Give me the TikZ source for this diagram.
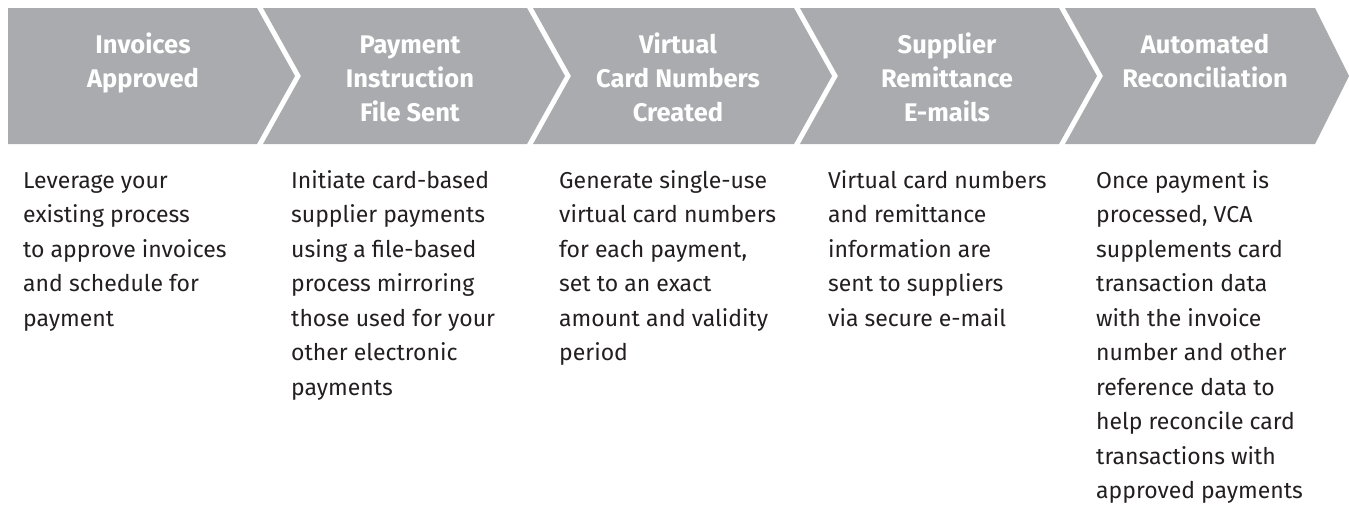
\documentclass[tikz,border=0pt]{standalone}
\usepackage{fontspec}
\setmainfont{Fira Sans}
\definecolor{band}{RGB}{170,171,174}
\definecolor{ink}{RGB}{35,31,32}
\tikzset{
  chev/.style={fill=band, draw=none},
  head/.style={anchor=base, inner sep=0pt, text=white, font=\fontsize{25.5}{34}\selectfont\bfseries},
  desc/.style={anchor=base west, inner sep=0pt, text=ink, font=\fontsize{23}{34.5}\selectfont},
}
\newcommand{\hbx}[1]{\parbox[t]{260pt}{\centering #1}}
\newcommand{\dbx}[1]{\parbox[t]{260pt}{\raggedright #1}}
\begin{document}
\begin{tikzpicture}[x=1pt,y=-1pt]
\useasboundingbox (0,0) rectangle (1349,504);
% separators top centre: 260, 530, 797, 1062 ; depth 38 ; half gap 3
\fill[chev] (8,8) -- (257,8) -- (295,76) -- (257,144) -- (8,144) -- cycle;
\fill[chev] (263,8) -- (527,8) -- (565,76) -- (527,144) -- (263,144) -- (301,76) -- cycle;
\fill[chev] (533,8) -- (794,8) -- (832,76) -- (794,144) -- (533,144) -- (571,76) -- cycle;
\fill[chev] (800,8) -- (1059,8) -- (1097,76) -- (1059,144) -- (800,144) -- (838,76) -- cycle;
\fill[chev] (1065,8) -- (1315,8) -- (1349,76) -- (1315,144) -- (1065,144) -- (1103,76) -- cycle;

\node[head] (h1) at (143,53) {\hbx{Invoices\\Approved}};
\node[head] (h2) at (410,53) {\hbx{Payment\\Instruction\\File Sent}};
\node[head] (h3) at (678,53) {\hbx{Virtual\\Card Numbers\\Created}};
\node[head] (h4) at (947,53) {\hbx{Supplier\\Remittance\\E-mails}};
\node[head] (h5) at (1205,53) {\hbx{Automated\\Reconciliation}};

\node[desc] (d1) at (23,188) {\dbx{Leverage your\\existing process\\to approve invoices\\and schedule for\\payment}};
\node[desc] (d2) at (291,188) {\dbx{Initiate card-based\\supplier payments\\using a file-based\\process mirroring\\those used for your\\other electronic\\payments}};
\node[desc] (d3) at (559,188) {\dbx{Generate single-use\\virtual card numbers\\for each payment,\\set to an exact\\amount and validity\\period}};
\node[desc] (d4) at (828,188) {\dbx{Virtual card numbers\\and remittance\\information are\\sent to suppliers\\via secure e-mail}};
\node[desc] (d5) at (1096,188) {\dbx{Once payment is\\processed, VCA\\supplements card\\transaction data\\with the invoice\\number and other\\reference data to\\help reconcile card\\transactions with\\approved payments}};
\end{tikzpicture}
\end{document}
